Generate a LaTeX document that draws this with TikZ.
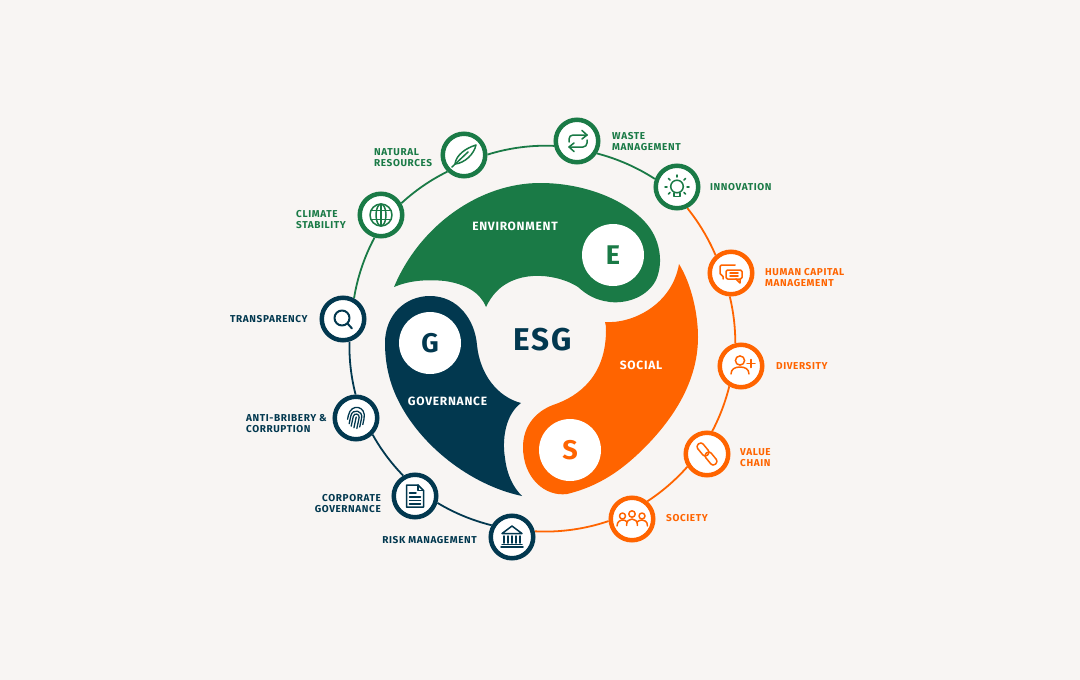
\documentclass[tikz,border=0pt]{standalone}
\usepackage{fontspec}
\setmainfont{Fira Sans}
\newfontfamily\labelfont[LetterSpace=6]{Fira Sans}
\newfontfamily\esgfont[LetterSpace=5]{Fira Sans}
\definecolor{paper}{HTML}{F8F5F3}
\definecolor{esggreen}{HTML}{1A7A46}
\definecolor{esgorange}{HTML}{FF6400}
\definecolor{esgnavy}{HTML}{02384F}
\tikzset{
  ringnode/.style={circle,draw=#1,line width=4.5pt,fill=white,minimum size=42.5pt,inner sep=0pt},
  ringline/.style={draw=#1,line width=1.8pt,looseness=0.85},
  ringlabel/.style={text=#1,font=\labelfont\bfseries\fontsize{10}{11}\selectfont,align=left,inner sep=0pt},
  bladelabel/.style={text=white,font=\labelfont\bfseries\fontsize{12}{12}\selectfont,inner sep=0pt},
  bladedisc/.style={circle,fill=white,minimum size=62pt,inner sep=0pt,text=#1,font=\bfseries\fontsize{27}{27}\selectfont},
  iconline/.style={draw=#1,line width=1.5pt,line cap=round,line join=round}
}
\begin{document}
\begin{tikzpicture}[x=1pt,y=-1pt]
\fill[paper] (0,0) rectangle (1080,680);

% blades
\fill[esggreen] (394,287) .. controls (420,225) and (480,183) .. (540,183)
  .. controls (585,183) and (625,200) .. (645,222)
  .. controls (660,238) and (664,262) .. (656,280)
  .. controls (648,296) and (628,304) .. (610,302)
  .. controls (595,300) and (587,295) .. (578,287)
  .. controls (560,275) and (520,268) .. (497,291)
  .. controls (492,296) and (489,301) .. (486,307)
  .. controls (480,292) and (465,284) .. (445,281)
  .. controls (425,279) and (408,281) .. (394,287) -- cycle;
\fill[esgorange] (679,264) .. controls (692,285) and (698,315) .. (698,337)
  .. controls (698,375) and (680,410) .. (650,442)
  .. controls (630,463) and (605,485) .. (567,494)
  .. controls (545,497) and (523,478) .. (523,447)
  .. controls (523,425) and (537,411) .. (553,405)
  .. controls (580,396) and (606,375) .. (606,330)
  .. controls (606,327) and (606,325) .. (605,322)
  .. controls (632,324) and (672,305) .. (679,264) -- cycle;
\fill[esgnavy] (522,496) .. controls (470,485) and (420,445) .. (398,400)
  .. controls (388,380) and (385,360) .. (385,343)
  .. controls (385,315) and (405,296) .. (430,296)
  .. controls (458,296) and (475,320) .. (477,345)
  .. controls (480,375) and (498,397) .. (521,403)
  .. controls (505,415) and (502,440) .. (505,458)
  .. controls (507,475) and (513,487) .. (522,496) -- cycle;

\node[bladedisc=esggreen] (discE) at (613,255) {E};
\node[bladedisc=esgnavy] (discG) at (430,343) {G};
\node[bladedisc=esgorange] (discS) at (570,450) {S};

\node[bladelabel] (envlab) at (515,226) {ENVIRONMENT};
\node[bladelabel] (soclab) at (641,365) {SOCIAL};
\node[bladelabel] (govlab) at (447.5,401) {GOVERNANCE};
\node[text=esgnavy,font=\esgfont\bfseries\fontsize{31.5}{32}\selectfont] (esg) at (542.5,340) {ESG};

% ring nodes
\node[ringnode=esggreen] (climate) at (381,215) {};
\node[ringnode=esggreen] (natural) at (464,155) {};
\node[ringnode=esggreen] (waste) at (577,141) {};
\node[ringnode=esggreen] (innovation) at (677,187) {};
\node[ringnode=esgorange] (human) at (731,273) {};
\node[ringnode=esgorange] (diversity) at (741,366) {};
\node[ringnode=esgorange] (value) at (707,454) {};
\node[ringnode=esgorange] (society) at (632,519) {};
\node[ringnode=esgnavy] (risk) at (512,537) {};
\node[ringnode=esgnavy] (corporate) at (415,496) {};
\node[ringnode=esgnavy] (anti) at (356,418) {};
\node[ringnode=esgnavy] (transparency) at (343,319) {};

% ring arcs
\draw[ringline=esggreen] (climate.30) to[bend left=8.3] (natural.-135);
\draw[ringline=esggreen] (natural.1) to[bend left=10] (waste.-168);
\draw[ringline=esggreen] (waste.-32) to[bend left=9.3] (innovation.160);
\draw[ringline=esgorange] (innovation.-64) to[bend left=8] (human.131);
\draw[ringline=esgorange] (human.-93) to[bend left=6.9] (diversity.104);
\draw[ringline=esgorange] (diversity.-120) to[bend left=7] (value.77);
\draw[ringline=esgorange] (value.-147) to[bend left=7.7] (society.49);
\draw[ringline=esgorange] (society.-175) to[bend left=11] (risk.14);
\draw[ringline=esgnavy] (risk.150) to[bend left=8.7] (corporate.-17);
\draw[ringline=esgnavy] (corporate.120) to[bend left=7.6] (anti.-45);
\draw[ringline=esgnavy] (anti.91) to[bend left=8] (transparency.-74);
\draw[ringline=esggreen] (transparency.62) to[bend left=9.5] (climate.-106);

% labels
\node[ringlabel=esggreen,anchor=west] (naturallab) at (374,157.5) {NATURAL\\RESOURCES};
\node[ringlabel=esggreen,anchor=west] (wastelab) at (612,141.5) {WASTE\\MANAGEMENT};
\node[ringlabel=esggreen,anchor=west] (innovationlab) at (710,187) {INNOVATION};
\node[ringlabel=esgorange,anchor=west] (humanlab) at (765,277.5) {HUMAN CAPITAL\\MANAGEMENT};
\node[ringlabel=esgorange,anchor=west] (diversitylab) at (776,366) {DIVERSITY};
\node[ringlabel=esgorange,anchor=west] (valuelab) at (740,457.5) {VALUE\\CHAIN};
\node[ringlabel=esgorange,anchor=west] (societylab) at (666,518.5) {SOCIETY};
\node[ringlabel=esggreen,anchor=west] (climatelab) at (296,220) {CLIMATE\\STABILITY};
\node[ringlabel=esgnavy,anchor=west] (transparencylab) at (230,319) {TRANSPARENCY};
\node[ringlabel=esgnavy,anchor=west] (antilab) at (246,423.5) {ANTI-BRIBERY \&\\CORRUPTION};
\node[ringlabel=esgnavy,anchor=east,align=right] (corporatelab) at (381,503.5) {CORPORATE\\GOVERNANCE};
\node[ringlabel=esgnavy,anchor=east] (risklab) at (477,540) {RISK MANAGEMENT};

% icons
\begin{scope}[shift={(381,215)},iconline=esggreen]
\draw (0,0) circle (11);
\draw (0,0) ellipse (5 and 11);
\draw (0,-11) -- (0,11);
\draw (-10,-4.5) -- (10,-4.5);
\draw (-10,4.5) -- (10,4.5);
\end{scope}
\begin{scope}[shift={(464,155)},iconline=esggreen]
\draw (-9,9) .. controls (-8,0) and (2,-7) .. (12,-10) .. controls (10,-1) and (1,8) .. (-9,9);
\draw (-12,12) -- (4,-3);
\end{scope}
\begin{scope}[shift={(577,141)},iconline=esggreen]
\draw[rounded corners=4] (-8,1) -- (-8,-6) -- (10,-6);
\draw (5,-10.5) -- (10,-6) -- (5,-2);
\draw[rounded corners=4] (10,-1) -- (10,6) -- (-8,6);
\draw (-3,2) -- (-8,6) -- (-3,10.5);
\end{scope}
\begin{scope}[shift={(677,187)},iconline=esggreen]
\draw (0,-0.5) circle (6.3);
\draw (-3,6) -- (-3,9.5) -- (3,9.5) -- (3,6);
\foreach \ax/\ay/\bx/\by in {-12/0/-10/0,12/0/10/0,0/-12/0/-10,-8.5/-8.5/-7/-7,8.5/-8.5/7/-7,-8.5/7/-7/5.5,8.5/7/7/5.5}
  \draw (\ax,\ay) -- (\bx,\by);
\end{scope}
\begin{scope}[shift={(731,273)},iconline=esgorange]
\draw[rounded corners=1.5] (4,-8) -- (-11,-8) -- (-11,2) -- (-8,2) -- (-8,6);
\draw[rounded corners=1.5,fill=white] (-5,-3) rectangle (11,6);
\draw (5,6) -- (9,10) -- (9,6);
\draw (-1,0) -- (7,0);
\draw (-1,3) -- (7,3);
\end{scope}
\begin{scope}[shift={(741,366)},iconline=esgorange]
\draw (-1,-5.5) circle (4.6);
\draw (-10,8) .. controls (-10,3) and (-6,1) .. (-1,1) .. controls (4,1) and (8,3) .. (8,8);
\draw (10,-6.5) -- (10,1.5);
\draw (6,-2.5) -- (14,-2.5);
\end{scope}
\begin{scope}[shift={(707,454)},iconline=esgorange]
\draw[rounded corners=3] (-11.2,-7.7) -- (-5.8,-12.3) -- (3.2,-1.3) -- (-2.2,3.3) -- cycle;
\draw[rounded corners=3] (-3.2,1.3) -- (2.2,-3.3) -- (11.2,7.7) -- (5.8,12.3) -- cycle;
\end{scope}
\begin{scope}[shift={(632,519)},iconline=esgorange]
\draw (-9.5,-3) circle (3);
\draw (0,-5) circle (3.2);
\draw (10,-3) circle (3);
\draw (-15,7) .. controls (-15,2) and (-11,1) .. (-9,1) .. controls (-7,1) and (-6,2) .. (-5,3);
\draw (15.5,7) .. controls (15.5,2) and (12,1) .. (10,1) .. controls (8,1) and (6,2) .. (5,3);
\draw (-5.5,6.5) .. controls (-5.5,2) and (-3,0) .. (0,0) .. controls (3,0) and (5.5,2) .. (5.5,6.5);
\end{scope}
\begin{scope}[shift={(512,537)},iconline=esgnavy]
\draw (-10,-3.5) -- (0,-11) -- (10,-3.5) -- cycle;
\foreach \dx in {-8,-4,0,4,8}
  \draw (\dx,-1) -- (\dx,6);
\draw (-10,7.5) -- (10,7.5);
\draw (-11,10) -- (11,10);
\end{scope}
\begin{scope}[shift={(415,496)},iconline=esgnavy]
\draw (-8.5,-11) -- (3,-11) -- (8.5,-5.5) -- (8.5,11) -- (-8.5,11) -- cycle;
\draw (3,-11) -- (3,-5.5) -- (8.5,-5.5);
\draw (-5.5,-3) -- (1,-3);
\draw (-5.5,1) -- (5.5,1);
\draw (-5.5,4.5) -- (5.5,4.5);
\draw (-5.5,8) -- (5.5,8);
\end{scope}
\begin{scope}[shift={(356,418)},iconline=esgnavy,rotate=-12,line width=1.3pt]
\draw (-8,3) -- (-8,-1) .. controls (-8,-14) and (8,-14) .. (8,-1) -- (8,5);
\draw (-5.5,7) -- (-5.5,-1) .. controls (-5.5,-9) and (5.5,-9) .. (5.5,-1) -- (5.5,8);
\draw (-3,9) -- (-3,-1) .. controls (-3,-5) and (3,-5) .. (3,-1) -- (3,10);
\draw (0,-1) -- (0,10);
\end{scope}
\begin{scope}[shift={(343,319)},iconline=esgnavy]
\draw[line width=2pt] (-1,-1) circle (7.5);
\draw[line width=2pt] (4.5,4.5) -- (9,9.5);
\end{scope}
\end{tikzpicture}
\end{document}
